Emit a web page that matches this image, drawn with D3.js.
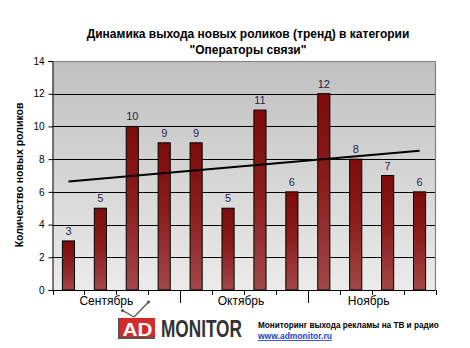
<!DOCTYPE html>
<html><head><meta charset="utf-8">
<script src="https://cdn.jsdelivr.net/npm/d3@7"></script>
<style>
html,body{margin:0;padding:0;background:#fff;}
svg{display:block;font-family:"Liberation Sans",Arial,sans-serif;}
</style></head>
<body>
<script>
// ---- data ----
const titleLines = ["Динамика выхода новых роликов (тренд) в категории", "\"Операторы связи\""];
const yAxisTitle = "Количество новых роликов";
const months = ["Сентябрь", "Октябрь", "Ноябрь"];
const weeksPerMonth = [4, 4, 4];
const values = [3, 5, 10, 9, 9, 5, 11, 6, 12, 8, 7, 6];
const trendEnds = [6.64, 8.52];           // trend line at first and last category
const yTicks = [0, 2, 4, 6, 8, 10, 12, 14];
const footerText = "Мониторинг выхода рекламы на ТВ и радио";
const footerUrl = "www.admonitor.ru";

const W = 470, H = 348;
const plot = {left: 52.5, right: 435.5, top: 61, bottom: 290};

const svg = d3.select("body").append("svg").attr("width", W).attr("height", H);
const defs = svg.append("defs");

const bg = defs.append("linearGradient").attr("id", "bg").attr("x1", 0).attr("y1", 0).attr("x2", 0).attr("y2", 1);
bg.append("stop").attr("offset", "0%").attr("stop-color", "#c0c0c0");
bg.append("stop").attr("offset", "100%").attr("stop-color", "#ebebeb");

const bg2 = defs.append("linearGradient").attr("id", "bar").attr("x1", 0).attr("y1", 0).attr("x2", 0).attr("y2", 1);
bg2.append("stop").attr("offset", "0%").attr("stop-color", "#7e0c0c");
bg2.append("stop").attr("offset", "45%").attr("stop-color", "#8a1c1c");
bg2.append("stop").attr("offset", "100%").attr("stop-color", "#a24848");

const idx = values.map((d, i) => i);
const x = d3.scaleBand().domain(idx).range([plot.left, plot.right]).paddingInner(0).paddingOuter(0);
const y = d3.scaleLinear().domain([0, 14]).range([plot.bottom, plot.top]);
const barW = x.bandwidth() * 0.38;

// background
svg.append("rect").attr("x", plot.left).attr("y", plot.top)
  .attr("width", plot.right - plot.left).attr("height", plot.bottom - plot.top)
  .attr("fill", "url(#bg)");

// grid lines
svg.append("g").selectAll("line").data(yTicks.filter(t => t > 0 && t < 14)).join("line")
  .attr("x1", plot.left).attr("x2", plot.right)
  .attr("y1", d => Math.round(y(d)) + 0.5).attr("y2", d => Math.round(y(d)) + 0.5)
  .attr("stroke", "#000").attr("stroke-width", 1);

// border top/right
svg.append("path")
  .attr("d", `M${plot.left},${plot.top + 0.5}H${plot.right}V${plot.bottom}`)
  .attr("fill", "none").attr("stroke", "#808080").attr("stroke-width", 1.2);

// bars
svg.append("g").selectAll("rect").data(values).join("rect")
  .attr("x", (d, i) => x(i) + (x.bandwidth() - barW) / 2)
  .attr("y", d => y(d))
  .attr("width", barW)
  .attr("height", d => y(0) - y(d))
  .attr("fill", "url(#bar)")
  .attr("stroke", "#000").attr("stroke-width", 1);

// data labels
svg.append("g").selectAll("text").data(values).join("text")
  .attr("x", (d, i) => x(i) + x.bandwidth() / 2)
  .attr("y", d => y(d) - 6)
  .attr("text-anchor", "middle")
  .attr("font-size", 11)
  .attr("fill", "#26234a")
  .text(d => d);

// trend line
svg.append("line")
  .attr("x1", x(0) + x.bandwidth() / 2).attr("y1", y(trendEnds[0]))
  .attr("x2", x(values.length - 1) + x.bandwidth() / 2).attr("y2", y(trendEnds[1]))
  .attr("stroke", "#000").attr("stroke-width", 2);

// y axis
const yAxis = d3.axisLeft(y).tickValues(yTicks).tickSize(4).tickPadding(4);
const gy = svg.append("g").attr("transform", `translate(${plot.left},0)`).call(yAxis);
gy.select(".domain").attr("stroke", "#000");
gy.selectAll(".tick line").attr("stroke", "#000");
gy.selectAll(".tick text").attr("font-size", 10).attr("font-family", "Liberation Sans, Arial, sans-serif").attr("fill", "#000");

// x axis
svg.append("line").attr("x1", plot.left).attr("x2", plot.right)
  .attr("y1", plot.bottom + 0.5).attr("y2", plot.bottom + 0.5).attr("stroke", "#000");
const boundaries = d3.range(values.length + 1);
let cum = 0; const monthBounds = [0];
weeksPerMonth.forEach(w => { cum += w; monthBounds.push(cum); });
const bx = i => i < values.length ? x(i) : plot.right;
svg.append("g").selectAll("line").data(boundaries).join("line")
  .attr("x1", d => Math.round(bx(d)) + 0.5).attr("x2", d => Math.round(bx(d)) + 0.5)
  .attr("y1", plot.bottom)
  .attr("y2", d => (d > 0 && d < values.length && monthBounds.includes(d)) ? plot.bottom + 13 : plot.bottom + 5)
  .attr("stroke", "#000");

svg.append("g").selectAll("text").data(months).join("text")
  .attr("x", (d, i) => (bx(monthBounds[i]) + bx(monthBounds[i + 1])) / 2 - (i === 0 ? 10 : 3))
  .attr("y", 305)
  .attr("text-anchor", "middle")
  .attr("font-size", 12)
  .attr("fill", "#000")
  .text(d => d);

// title
svg.append("g").selectAll("text").data(titleLines).join("text")
  .attr("x", 248).attr("y", (d, i) => 37.5 + i * 16.5)
  .attr("text-anchor", "middle")
  .attr("font-size", 12)
  .attr("font-weight", "bold")
  .attr("fill", "#000")
  .text(d => d);

// y axis title
svg.append("text")
  .attr("transform", `translate(23,175) rotate(-90)`)
  .attr("text-anchor", "middle")
  .attr("font-size", 10.5)
  .attr("font-weight", "bold")
  .attr("fill", "#000")
  .text(yAxisTitle);

// helper: text squeezed horizontally to a target width via transform
function squeezed(parent, txt, tx, ty, size, targetW, fill, anchor) {
  const g = parent.append("g");
  const t = g.append("text").attr("font-size", size).attr("font-weight", "bold")
    .attr("fill", fill).attr("text-anchor", anchor || "start").text(txt);
  const len = t.node().getComputedTextLength();
  g.attr("transform", `translate(${tx},${ty}) scale(${targetW / len},1)`);
  return g;
}

// logo
const logo = svg.append("g");
logo.append("line").attr("x1", 134).attr("y1", 317).attr("x2", 122.5).attr("y2", 310.5).attr("stroke", "#555").attr("stroke-width", 1.3);
logo.append("line").attr("x1", 134).attr("y1", 317).attr("x2", 148.5).attr("y2", 302).attr("stroke", "#555").attr("stroke-width", 1.3);
logo.append("circle").attr("cx", 122.5).attr("cy", 310.5).attr("r", 1.6).attr("fill", "#555");
logo.append("circle").attr("cx", 148.5).attr("cy", 302).attr("r", 1.6).attr("fill", "#555");
logo.append("rect").attr("x", 118).attr("y", 318).attr("width", 37).attr("height", 21).attr("fill", "#555");
logo.append("rect").attr("x", 120).attr("y", 318).attr("width", 35).attr("height", 19).attr("fill", "#d42a2a");
squeezed(logo, "AD", 137.5, 336, 19, 30, "#fff", "middle");
squeezed(logo, "MONITOR", 161, 337, 23, 81, "#333", "start");

// footer text
squeezed(svg, footerText, 258, 327.5, 8.5, 181, "#000", "start");
squeezed(svg, footerUrl, 258, 339, 8.5, 74, "#1a3fcc", "start")
  .select("text").attr("text-decoration", "underline");
</script>
</body></html>
